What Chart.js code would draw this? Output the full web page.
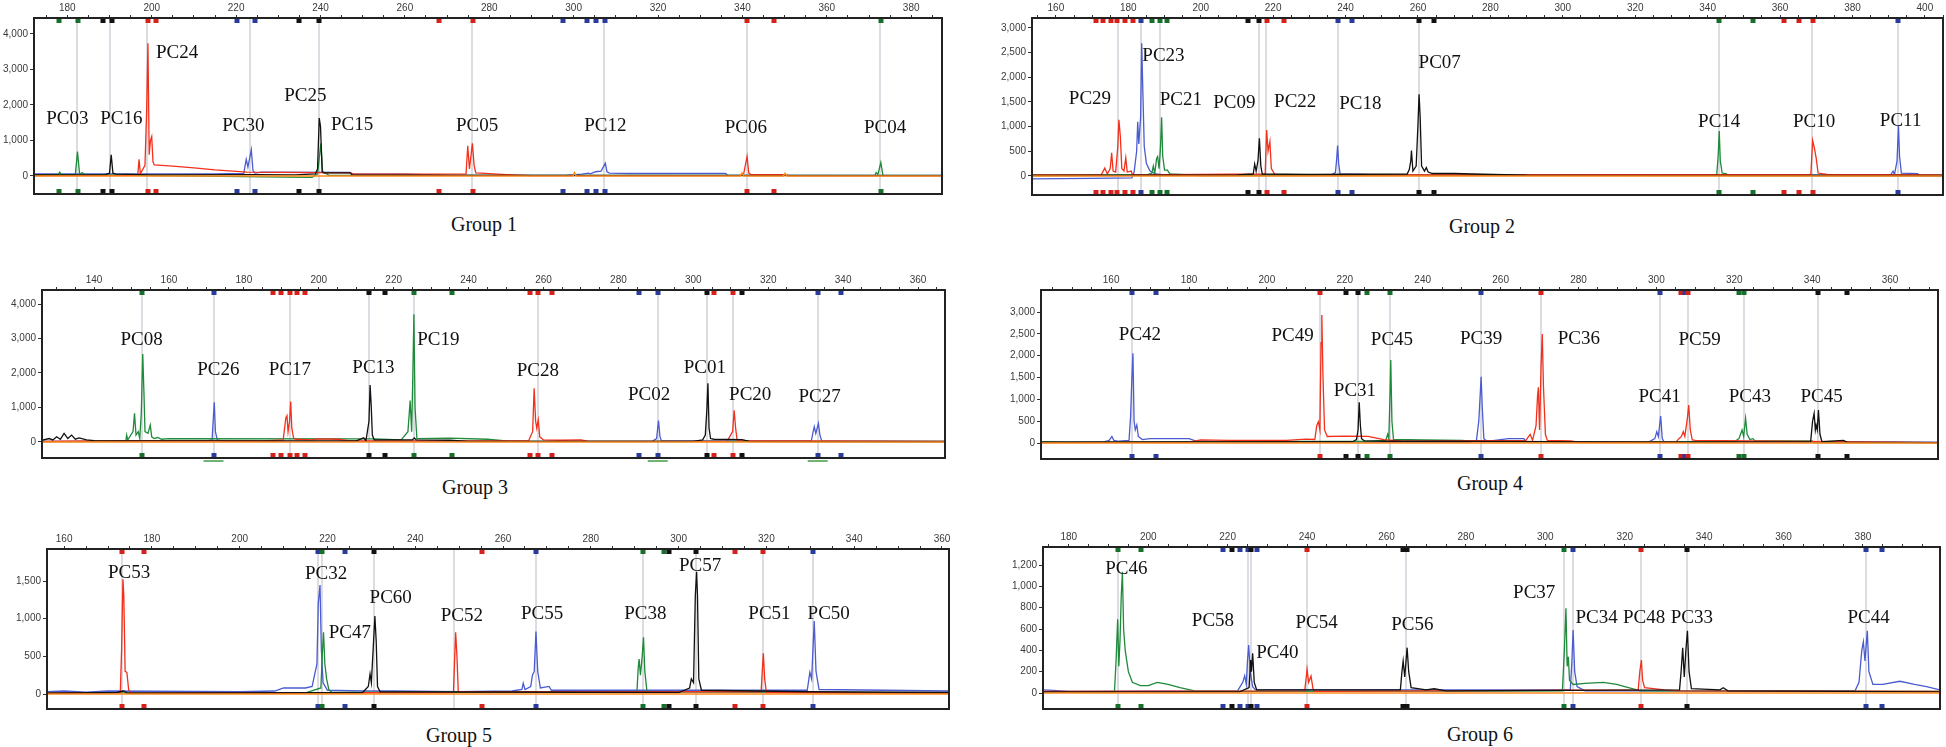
<!DOCTYPE html>
<html>
<head>
<meta charset="utf-8">
<script src="https://cdn.jsdelivr.net/npm/chart.js@4.4.1/dist/chart.umd.min.js"></script>
<style>
  html, body { margin: 0; padding: 0; background: #fff; }
  #wrap { position: relative; width: 1946px; height: 747px; overflow: hidden; }
  #wrap canvas { position: absolute; }
  .grp {
    position: absolute; transform: translate(-50%, -50%); white-space: nowrap;
    font: 20px "Liberation Serif", "Times New Roman", serif; color: #111;
  }
</style>
</head>
<body>
<div id="wrap"></div>
<script>
// ---- Group 1 ----
const g1XTicks = [180, 200, 220, 240, 260, 280, 300, 320, 340, 360, 380];
const g1YTicks = [0, 1000, 2000, 3000, 4000];
const g1Orange = [[172.1,0],[299.8,0],[300.2,90],[300.6,0],[339.5,0],[339.9,80],[340.3,0],[349.7,0],[350.1,70],[350.5,0],[387.3,0]];
const g1Black  = [[172.1,30],[189,40],[190,80],[190.4,600],[190.8,80],[191.5,50],[200,30],[225,40],[234,30],[238.8,60],[239.3,200],[239.7,1630],[240.0,1400],[240.4,120],[241,90],[247,90],[247.5,30],[270,15],[387.3,10]];
const g1Red    = [[172.1,10],[195.5,20],[196.7,40],[197.0,470],[197.3,60],[198.4,300],[198.8,1850],[199.1,3740],[199.4,600],[199.7,1000],[200.0,1110],[200.3,400],[200.6,310],[205,280],[210,230],[215,170],[222.5,110],[247,90],[248,50],[268,50],[274.5,60],[274.9,850],[275.3,200],[276.0,920],[276.4,300],[276.8,90],[278,80],[282,50],[284,40],[290,10],[339.5,20],[340.3,60],[341.1,550],[341.5,80],[342,40],[350,40],[351,10],[387.3,10]];
const g1Green  = [[172.1,40],[177.8,40],[178.2,110],[178.6,40],[181.9,40],[182.4,690],[182.9,60],[183.6,90],[184,40],[190,30],[196,20],[232,-30],[238,-40],[239.3,60],[240.1,920],[240.5,100],[241.5,60],[242,20],[300,20],[371.4,15],[371.7,100],[372.1,40],[372.8,380],[373.3,20],[387.3,20]];
const g1Blue   = [[172.1,60],[215,60],[221.8,70],[222.4,470],[222.8,250],[223.6,740],[224.0,150],[224.5,80],[226,110],[247,100],[247.5,60],[260,50],[270,20],[298,20],[302,50],[303.5,80],[304,60],[305.2,120],[306.5,140],[307.5,360],[307.9,120],[308.5,80],[313,70],[336,70],[336.5,20],[387.3,20]];
const g1Guides = [182.4, 190.2, 198.9, 223.2, 239.7, 276.0, 307.2, 341.1, 372.6];
const g1Marks  = [[178.1,'g'],[182.5,'g'],[188.5,'k'],[190.5,'k'],[199.1,'r'],[201.0,'r'],[220.3,'b'],[224.5,'b'],[234.8,'k'],[239.7,'k'],[268.1,'r'],[276.1,'r'],[297.5,'b'],[303.2,'b'],[305.3,'b'],[307.5,'b'],[341.1,'r'],[347.4,'r'],[372.8,'g']];
const g1Under  = [];
const g1LabelNames = ['PC03','PC16','PC24','PC30','PC25','PC15','PC05','PC12','PC06','PC04'];
const g1LabelX = [180.0, 192.8, 206.0, 221.7, 236.4, 247.5, 277.1, 307.5, 340.8, 373.8];
const g1LabelY = [1597, 1597, 3473, 1417, 2254, 1436, 1408, 1408, 1362, 1362];

// ---- Group 2 ----
const g2XTicks = [160, 180, 200, 220, 240, 260, 280, 300, 320, 340, 360, 380, 400];
const g2YTicks = [0, 500, 1000, 1500, 2000, 2500, 3000];
const g2Orange = [[153.4,0],[405,0]];
const g2Black  = [[153.4,10],[210,20],[214.5,40],[214.9,243],[215.3,100],[215.8,300],[216.2,764],[216.6,200],[217,40],[230,30],[257,40],[257.6,130],[258,300],[258.2,514],[258.6,100],[259.5,200],[260.0,1050],[260.3,1657],[260.6,1200],[261,200],[261.8,100],[262.3,170],[262.8,80],[264,50],[270,50],[275,40],[290,15],[405,10]];
const g2Red    = [[153.4,20],[172.5,20],[173.5,160],[174.2,40],[175.0,150],[175.4,470],[175.8,100],[176.5,80],[177.1,600],[177.4,1140],[177.8,800],[178.2,150],[178.8,100],[179.3,370],[179.7,80],[180.8,100],[181.2,20],[217.8,40],[218.2,930],[218.6,500],[219.1,700],[219.5,150],[220.5,30],[260,20],[368.5,30],[369.0,720],[369.5,560],[370,350],[370.5,60],[373,30],[405,20]];
const g2Green  = [[153.4,20],[185,20],[186.5,60],[186.9,200],[187.3,50],[187.8,350],[188.1,392],[188.5,150],[188.9,600],[189.2,1190],[189.5,400],[190,120],[190.8,120],[191.5,40],[200,10],[342.5,20],[342.9,400],[343.2,910],[343.5,300],[344,60],[345,50],[346,10],[405,10]];
const g2Blue   = [[153.4,-60],[170,-50],[181,-40],[181.6,80],[182.3,500],[182.6,1100],[182.9,650],[183.4,1200],[183.7,2690],[184.0,1750],[184.4,600],[185,250],[186,100],[187.5,40],[190,20],[236,20],[237.2,70],[237.5,300],[237.8,615],[238.1,250],[238.5,40],[250,20],[300,20],[390.5,20],[391.2,100],[391.6,30],[392.3,300],[392.7,1010],[393.0,400],[393.5,60],[398,50],[398.5,10],[405,10]];
const g2Guides = [177.2, 183.4, 188.8, 216.0, 218.0, 237.8, 260.3, 343.2, 368.8, 392.5];
const g2Marks  = [[171.0,'r'],[173.1,'r'],[175.1,'r'],[177.0,'r'],[179.1,'r'],[181.2,'r'],[183.4,'b'],[186.6,'g'],[188.8,'g'],[190.8,'g'],[213.0,'k'],[216.0,'k'],[218.2,'r'],[223.1,'r'],[237.8,'b'],[241.9,'b'],[260.3,'k'],[264.5,'k'],[343.2,'g'],[352.4,'g'],[361.2,'r'],[365.1,'r'],[369.0,'r'],[392.7,'b']];
const g2Under  = [];
const g2LabelNames = ['PC29','PC23','PC21','PC09','PC22','PC18','PC07','PC14','PC10','PC11'];
const g2LabelX = [169.4, 189.7, 194.5, 209.3, 226.1, 244.1, 266.0, 343.2, 369.4, 393.3];
const g2LabelY = [1562, 2420, 1542, 1487, 1500, 1460, 2298, 1101, 1101, 1122];

// ---- Group 3 ----
const g3XTicks = [140, 160, 180, 200, 220, 240, 260, 280, 300, 320, 340, 360];
const g3YTicks = [0, 1000, 2000, 3000, 4000];
const g3Orange = [[126.1,0],[367.2,0]];
const g3Black  = [[126.1,50],[128,100],[129,60],[130,150],[131,80],[132,250],[133,100],[134,200],[135,80],[136,120],[138,60],[140,40],[148,30],[210,30],[212,120],[212.6,40],[213.4,600],[213.7,1650],[214.0,1050],[214.3,200],[214.8,60],[225,60],[225.5,120],[226,60],[235,50],[240,20],[300,20],[302.5,60],[303.2,200],[303.6,900],[303.9,1700],[304.2,400],[304.6,100],[305.5,80],[313,70],[315,20],[367.2,10]];
const g3Red    = [[126.1,20],[140,30],[155,40],[185,30],[190.5,60],[191.2,700],[191.5,763],[191.8,300],[192.2,600],[192.5,1170],[192.8,400],[193.3,100],[194,80],[198,60],[200,90],[205,80],[208,40],[215,30],[256,30],[257.1,300],[257.5,1556],[257.9,600],[258.2,400],[258.6,640],[259,150],[260,60],[265,50],[270,60],[272,20],[309,20],[310.5,300],[310.9,920],[311.3,400],[311.7,40],[367.2,20]];
const g3Green  = [[126.1,10],[145,20],[148.5,40],[148.7,200],[149,60],[150.4,300],[150.8,830],[151.2,200],[151.8,300],[152.2,100],[152.6,800],[153.0,2550],[153.3,1500],[153.6,300],[154.4,250],[155.0,490],[155.4,150],[156,100],[157,130],[158,80],[160,100],[215,90],[222,60],[223.8,300],[224.4,1200],[224.8,300],[225.1,1900],[225.4,3700],[225.7,1000],[226.2,100],[235,110],[245,80],[250,30],[255,20],[367.2,15]];
const g3Blue   = [[126.1,20],[170,30],[171.5,60],[172.1,1150],[172.4,300],[172.9,60],[175,20],[289,20],[290.2,100],[290.7,620],[291.1,150],[291.5,30],[331.5,30],[332.0,300],[332.3,445],[332.7,250],[333.4,540],[333.8,200],[334.3,30],[367.2,20]];
const g3Guides = [152.7, 171.9, 192.2, 213.5, 225.3, 258.4, 290.5, 303.7, 310.7, 333.2];
const g3Marks  = [[152.7,'g'],[171.9,'b'],[187.7,'r'],[189.9,'r'],[192.3,'r'],[194.3,'r'],[196.3,'r'],[213.5,'k'],[217.7,'k'],[225.3,'g'],[235.5,'g'],[256.4,'r'],[258.4,'r'],[262.2,'r'],[285.6,'b'],[290.5,'b'],[303.7,'k'],[305.6,'r'],[310.7,'r'],[313.1,'k'],[333.2,'b'],[339.4,'b']];
const g3Under  = [171.9, 290.5, 333.2];
const g3LabelNames = ['PC08','PC26','PC17','PC13','PC19','PC28','PC02','PC01','PC20','PC27'];
const g3LabelX = [152.7, 173.2, 192.3, 214.6, 231.9, 258.5, 288.2, 303.1, 315.2, 333.7];
const g3LabelY = [2957, 2087, 2087, 2135, 2957, 2058, 1362, 2154, 1362, 1314];

// ---- Group 4 ----
const g4XTicks = [160, 180, 200, 220, 240, 260, 280, 300, 320, 340, 360];
const g4YTicks = [0, 500, 1000, 1500, 2000, 2500, 3000];
const g4Orange = [[142,0],[372.3,0]];
const g4Black  = [[142,20],[222,30],[223,80],[223.4,300],[223.7,932],[224.0,400],[224.3,100],[225,50],[230,40],[245,40],[300,20],[339.6,30],[340.1,500],[340.5,680],[340.8,300],[341.0,412],[341.3,300],[341.6,756],[342.0,200],[342.5,30],[348,60],[349,20],[372.3,10]];
const g4Red    = [[142,10],[180,20],[183,70],[190,60],[200,60],[205,60],[210,90],[212.3,80],[212.8,400],[213.2,488],[213.6,300],[213.9,2300],[214.1,2931],[214.4,1500],[214.8,300],[215.5,150],[220,160],[226,150],[230,80],[235,40],[266.5,60],[267.2,150],[267.6,200],[268.2,60],[269.1,400],[269.5,1100],[269.7,1275],[270.0,300],[270.4,1800],[270.7,2496],[271.0,1300],[271.5,200],[272,60],[278,50],[280,20],[305,20],[305.8,100],[306.4,150],[306.9,260],[307.3,150],[308.0,600],[308.3,870],[308.7,300],[309.2,70],[310,60],[372.3,10]];
const g4Green  = [[142,30],[150,20],[225,40],[230.5,60],[231.0,200],[231.3,100],[231.6,1100],[231.8,1901],[232.1,500],[232.5,80],[240,70],[250,60],[255,30],[320,30],[321.2,100],[321.6,200],[322.0,300],[322.4,150],[322.9,565],[323.3,200],[324,80],[324.8,100],[325.3,50],[340,50],[340.5,10],[372.3,10]];
const g4Blue   = [[142,20],[158,20],[159.5,60],[160.2,150],[160.7,60],[162,40],[164.6,60],[165.0,600],[165.3,1400],[165.6,2054],[165.9,500],[166.2,300],[166.6,412],[167.0,150],[168,80],[170,100],[180,100],[182,40],[200,20],[252,20],[253.8,60],[254.4,500],[254.7,1000],[255.0,1519],[255.3,800],[255.7,100],[256.5,40],[262,100],[266,100],[266.5,30],[298,20],[299.6,100],[300.1,260],[300.5,150],[301.1,618],[301.5,100],[302,20],[372.3,20]];
const g4Guides = [165.3, 213.7, 223.5, 231.6, 255.0, 270.4, 301.0, 308.0, 322.6, 341.6];
const g4Marks  = [[165.3,'b'],[171.6,'b'],[213.7,'r'],[220.2,'k'],[223.5,'k'],[225.6,'g'],[231.6,'g'],[255.0,'b'],[270.4,'r'],[301.0,'b'],[306.3,'r'],[307.4,'b'],[308.2,'r'],[321.2,'g'],[322.6,'g'],[341.6,'k'],[348.9,'k']];
const g4Under  = [];
const g4LabelNames = ['PC42','PC49','PC31','PC45','PC39','PC36','PC41','PC59','PC43','PC45'];
const g4LabelX = [167.4, 206.6, 222.6, 232.1, 255.0, 280.1, 300.8, 311.1, 324.0, 342.4];
const g4LabelY = [2473, 2458, 1191, 2359, 2374, 2374, 1061, 2359, 1061, 1061];

// ---- Group 5 ----
const g5XTicks = [160, 180, 200, 220, 240, 260, 280, 300, 320, 340, 360];
const g5YTicks = [0, 500, 1000, 1500];
const g5Orange = [[156.1,0],[361.6,0]];
const g5Black  = [[156.1,10],[172,20],[173.5,40],[174.5,10],[228,20],[229.3,100],[229.7,266],[230,150],[230.5,700],[230.8,1036],[231.1,700],[231.4,100],[232,30],[300,20],[302.5,80],[302.9,200],[303.4,150],[303.8,1300],[304.1,1624],[304.3,1300],[304.6,200],[305.2,50],[330,30],[361.6,20]];
const g5Red    = [[156.1,10],[172.8,20],[173.1,600],[173.4,1523],[173.6,1300],[173.9,300],[174.3,288],[174.7,60],[175.2,10],[248.7,20],[249.0,500],[249.2,819],[249.5,500],[249.8,30],[318.8,30],[319.1,350],[319.3,540],[319.6,200],[320,20],[361.6,10]];
const g5Green  = [[156.1,15],[215,15],[218.5,80],[218.8,500],[219.1,819],[219.4,400],[219.8,200],[220.3,60],[221,20],[290.5,30],[290.8,350],[291.0,465],[291.3,250],[291.7,500],[292.0,753],[292.3,300],[292.8,30],[361.6,15]];
const g5Blue   = [[156.1,30],[160,40],[165,25],[170,40],[200,30],[208,40],[210,80],[215,80],[216.5,100],[217.6,400],[217.9,1200],[218.3,1447],[218.6,600],[219,150],[220,50],[228,40],[235,40],[250,30],[262,40],[264.3,60],[264.6,142],[265,60],[266.3,100],[266.7,250],[267.1,300],[267.5,828],[267.9,300],[268.5,80],[270.5,100],[271,50],[285,50],[329.3,50],[329.9,288],[330.3,200],[330.9,969],[331.3,300],[332,60],[361.6,40]];
const g5Guides = [173.1, 217.9, 218.8, 230.6, 248.9, 267.4, 291.8, 304.0, 319.2, 330.7];
const g5Marks  = [[173.1,'r'],[178.3,'r'],[217.9,'b'],[218.8,'g'],[223.9,'b'],[230.6,'k'],[255.3,'r'],[267.4,'b'],[291.8,'g'],[296.7,'g'],[297.8,'k'],[304.0,'k'],[312.9,'r'],[319.2,'r'],[330.7,'b']];
const g5Under  = [];
const g5LabelNames = ['PC53','PC32','PC47','PC60','PC52','PC55','PC38','PC57','PC51','PC50'];
const g5LabelX = [174.8, 219.7, 225.1, 234.4, 250.6, 268.9, 292.4, 304.9, 320.7, 334.2];
const g5LabelY = [1611, 1590, 814, 1279, 1036, 1058, 1058, 1700, 1058, 1058];

// ---- Group 6 ----
const g6XTicks = [180, 200, 220, 240, 260, 280, 300, 320, 340, 360, 380];
const g6YTicks = [0, 200, 400, 600, 800, 1000, 1200];
const g6Orange = [[173.5,0],[399.4,0]];
const g6Black  = [[173.5,10],[223,10],[225.4,50],[225.8,309],[226.0,200],[226.3,372],[226.7,100],[227.3,30],[263.5,30],[263.9,200],[264.2,300],[264.6,150],[265.2,425],[265.6,200],[266.2,50],[270,30],[272,40],[275,20],[333.8,30],[334.2,200],[334.6,425],[335.0,150],[335.4,400],[335.8,584],[336.2,200],[336.8,40],[344,30],[344.8,50],[346,20],[399.4,10]];
const g6Red    = [[173.5,15],[239.4,20],[239.8,150],[240.0,222],[240.4,100],[241.0,159],[241.5,40],[242,15],[323.4,30],[323.8,200],[324.2,309],[324.5,120],[325,50],[330,30],[334,20],[399.4,15]];
const g6Green  = [[173.5,10],[191.5,10],[191.9,300],[192.3,691],[192.6,250],[192.9,500],[193.2,900],[193.5,1137],[193.8,600],[194.2,400],[195,200],[196,100],[198,70],[200,70],[202.3,100],[205,80],[208,50],[211.7,20],[225,15],[304.3,20],[304.8,400],[305.2,794],[305.5,250],[305.8,340],[306.1,120],[307,80],[310,90],[314.6,100],[318,80],[320,60],[324,20],[399.4,15]];
const g6Blue   = [[173.5,30],[176,25],[180,15],[222.5,20],[223.8,100],[224.3,162],[224.7,80],[225.0,300],[225.3,450],[225.7,200],[226.3,60],[227,30],[306.3,30],[306.7,300],[307.0,590],[307.4,200],[308,60],[310,20],[378,20],[379,100],[379.7,400],[380.1,481],[380.5,300],[381.1,584],[381.5,200],[382.5,80],[385,80],[389.3,110],[393,80],[396,60],[399.4,30]];
const g6Guides = [192.4, 225.2, 226.0, 239.9, 264.9, 304.8, 307.0, 324.0, 335.6, 380.8];
const g6Marks  = [[192.4,'g'],[198.3,'g'],[218.9,'b'],[221.0,'k'],[223.1,'b'],[225.2,'b'],[226.0,'k'],[227.3,'b'],[239.9,'r'],[264.2,'k'],[265.2,'k'],[304.8,'g'],[307.0,'b'],[324.0,'r'],[335.6,'k'],[380.8,'b'],[384.9,'b']];
const g6Under  = [];
const g6LabelNames = ['PC46','PC58','PC40','PC54','PC56','PC37','PC34','PC48','PC33','PC44'];
const g6LabelX = [194.5, 216.3, 232.5, 242.4, 266.5, 297.2, 312.9, 324.9, 336.9, 381.4];
const g6LabelY = [1159, 675, 378, 659, 637, 940, 700, 700, 700, 700];

const groupNames = ['Group 1', 'Group 2', 'Group 3', 'Group 4', 'Group 5', 'Group 6'];

// axis extents and plot boxes (page pixels)
const layout = [
  { cl: 0,   l: 34,   t: 18,  r: 942,  b: 194, xMin: 172.1, xMax: 387.3, yMin: -507, yMax: 4450, gx: 484,  gy: 224 },
  { cl: 966, l: 1032, t: 18,  r: 1943, b: 195, xMin: 153.4, xMax: 405,   yMin: -385, yMax: 3200, gx: 1482, gy: 226 },
  { cl: 0,   l: 42,   t: 290, r: 945,  b: 458, xMin: 126.1, xMax: 367.2, yMin: -464, yMax: 4406, gx: 475,  gy: 487 },
  { cl: 966, l: 1041, t: 290, r: 1938, b: 459, xMin: 142,   xMax: 372.3, yMin: -366, yMax: 3504, gx: 1490, gy: 483 },
  { cl: 0,   l: 47,   t: 549, r: 949,  b: 709, xMin: 156.1, xMax: 361.6, yMin: -199, yMax: 1925, gx: 459,  gy: 735 },
  { cl: 966, l: 1043, t: 547, r: 1940, b: 709, xMin: 173.5, xMax: 399.4, yMin: -150, yMax: 1369, gx: 1480, gy: 734 },
];

const panels = [
  { traces: { o: g1Orange, k: g1Black, r: g1Red, g: g1Green, b: g1Blue }, xt: g1XTicks, yt: g1YTicks, guides: g1Guides, marks: g1Marks, under: g1Under, names: g1LabelNames, lx: g1LabelX, ly: g1LabelY },
  { traces: { o: g2Orange, k: g2Black, r: g2Red, g: g2Green, b: g2Blue }, xt: g2XTicks, yt: g2YTicks, guides: g2Guides, marks: g2Marks, under: g2Under, names: g2LabelNames, lx: g2LabelX, ly: g2LabelY },
  { traces: { o: g3Orange, k: g3Black, r: g3Red, g: g3Green, b: g3Blue }, xt: g3XTicks, yt: g3YTicks, guides: g3Guides, marks: g3Marks, under: g3Under, names: g3LabelNames, lx: g3LabelX, ly: g3LabelY },
  { traces: { o: g4Orange, k: g4Black, r: g4Red, g: g4Green, b: g4Blue }, xt: g4XTicks, yt: g4YTicks, guides: g4Guides, marks: g4Marks, under: g4Under, names: g4LabelNames, lx: g4LabelX, ly: g4LabelY },
  { traces: { o: g5Orange, k: g5Black, r: g5Red, g: g5Green, b: g5Blue }, xt: g5XTicks, yt: g5YTicks, guides: g5Guides, marks: g5Marks, under: g5Under, names: g5LabelNames, lx: g5LabelX, ly: g5LabelY },
  { traces: { o: g6Orange, k: g6Black, r: g6Red, g: g6Green, b: g6Blue }, xt: g6XTicks, yt: g6YTicks, guides: g6Guides, marks: g6Marks, under: g6Under, names: g6LabelNames, lx: g6LabelX, ly: g6LabelY },
];

const traceColors = { o: '#ff8a1c', k: '#111111', r: '#f2301c', g: '#1f8a3a', b: '#4a5cd0' };
const markColors  = { r: '#d8201a', g: '#17702a', b: '#2a3b9e', k: '#111111' };

const TOP_AXIS = 20;
const PAD = 8;

function decor(p) {
  return {
    id: 'decor',
    beforeDatasetsDraw(chart) {
      const { ctx, chartArea: a, scales: { x } } = chart;
      ctx.save();
      ctx.strokeStyle = '#dcdce2';
      ctx.lineWidth = 2;
      p.guides.forEach(v => {
        const px = Math.round(x.getPixelForValue(v));
        ctx.beginPath();
        ctx.moveTo(px, a.top);
        ctx.lineTo(px, a.bottom);
        ctx.stroke();
      });
      ctx.restore();
    },
    afterDatasetsDraw(chart) {
      const { ctx, scales: { x, y } } = chart;
      ctx.save();
      ctx.font = '19px "Liberation Serif", "Times New Roman", serif';
      ctx.fillStyle = '#111';
      ctx.textAlign = 'center';
      ctx.textBaseline = 'middle';
      p.names.forEach((n, i) => ctx.fillText(n, x.getPixelForValue(p.lx[i]), y.getPixelForValue(p.ly[i])));
      ctx.restore();
    },
    afterDraw(chart) {
      const { ctx, chartArea: a, scales: { x } } = chart;
      ctx.save();
      p.marks.forEach(([v, c]) => {
        const px = Math.round(x.getPixelForValue(v));
        ctx.fillStyle = markColors[c];
        ctx.fillRect(px - 2.5, a.top, 5, 5);
        ctx.fillRect(px - 2.5, a.bottom - 5, 5, 5);
      });
      // green bars under some bins
      ctx.strokeStyle = '#3f9a4a';
      ctx.lineWidth = 1.5;
      p.under.forEach(v => {
        const px = x.getPixelForValue(v);
        ctx.beginPath();
        ctx.moveTo(px - 10, a.bottom + 3);
        ctx.lineTo(px + 10, a.bottom + 3);
        ctx.stroke();
      });
      ctx.strokeStyle = '#222';
      ctx.lineWidth = 2;
      ctx.strokeRect(a.left, a.top, a.right - a.left, a.bottom - a.top);
      ctx.restore();
    },
  };
}

const wrap = document.getElementById('wrap');
const tickFont = { family: '"Liberation Sans", Arial, sans-serif', size: 10 };

panels.forEach((p, i) => {
  const L = layout[i];
  const canvas = document.createElement('canvas');
  const w = L.r - L.cl + PAD;
  const h = L.b - L.t + TOP_AXIS + PAD;
  canvas.width = w;
  canvas.height = h;
  canvas.style.left = L.cl + 'px';
  canvas.style.top = (L.t - TOP_AXIS) + 'px';
  canvas.style.width = w + 'px';
  canvas.style.height = h + 'px';
  wrap.appendChild(canvas);

  const datasets = Object.keys(p.traces).map(k => ({
    data: p.traces[k].map(([x, y]) => ({ x, y })),
    borderColor: traceColors[k],
    borderWidth: k === 'o' ? 1.6 : 1.3,
    showLine: true,
    pointRadius: 0,
    tension: 0,
  }));

  // major ticks come from the tick arrays, minor ticks every 5 units in between
  const xTicks = s => {
    const out = [];
    for (let v = Math.ceil(L.xMin / 5) * 5; v <= L.xMax; v += 5) out.push({ value: v, major: p.xt.includes(v) });
    s.ticks = out;
  };

  new Chart(canvas, {
    type: 'scatter',
    data: { datasets },
    options: {
      responsive: false,
      animation: false,
      devicePixelRatio: 1,
      layout: { padding: { left: 0, top: 0, right: PAD, bottom: PAD } },
      plugins: { legend: { display: false }, tooltip: { enabled: false } },
      scales: {
        x: {
          type: 'linear',
          position: 'top',
          min: L.xMin,
          max: L.xMax,
          afterBuildTicks: xTicks,
          afterFit: s => { s.height = TOP_AXIS; },
          ticks: {
            autoSkip: false,
            maxRotation: 0,
            padding: 1,
            color: '#3a3a3a',
            font: tickFont,
            callback: v => (p.xt.includes(v) ? String(v) : ''),
          },
          grid: { drawOnChartArea: false, tickLength: 3, color: '#333' },
          border: { display: false },
        },
        y: {
          type: 'linear',
          min: L.yMin,
          max: L.yMax,
          afterBuildTicks: s => { s.ticks = p.yt.map(v => ({ value: v })); },
          afterFit: s => { s.width = L.l - L.cl; },
          ticks: {
            autoSkip: false,
            padding: 2,
            color: '#3a3a3a',
            font: tickFont,
            callback: v => v.toLocaleString('en-US'),
          },
          grid: { drawOnChartArea: false, tickLength: 4, color: '#333' },
          border: { display: false },
        },
      },
    },
    plugins: [decor(p)],
  });

  const g = document.createElement('div');
  g.className = 'grp';
  g.textContent = groupNames[i];
  g.style.left = L.gx + 'px';
  g.style.top = L.gy + 'px';
  wrap.appendChild(g);
});
</script>
</body>
</html>
